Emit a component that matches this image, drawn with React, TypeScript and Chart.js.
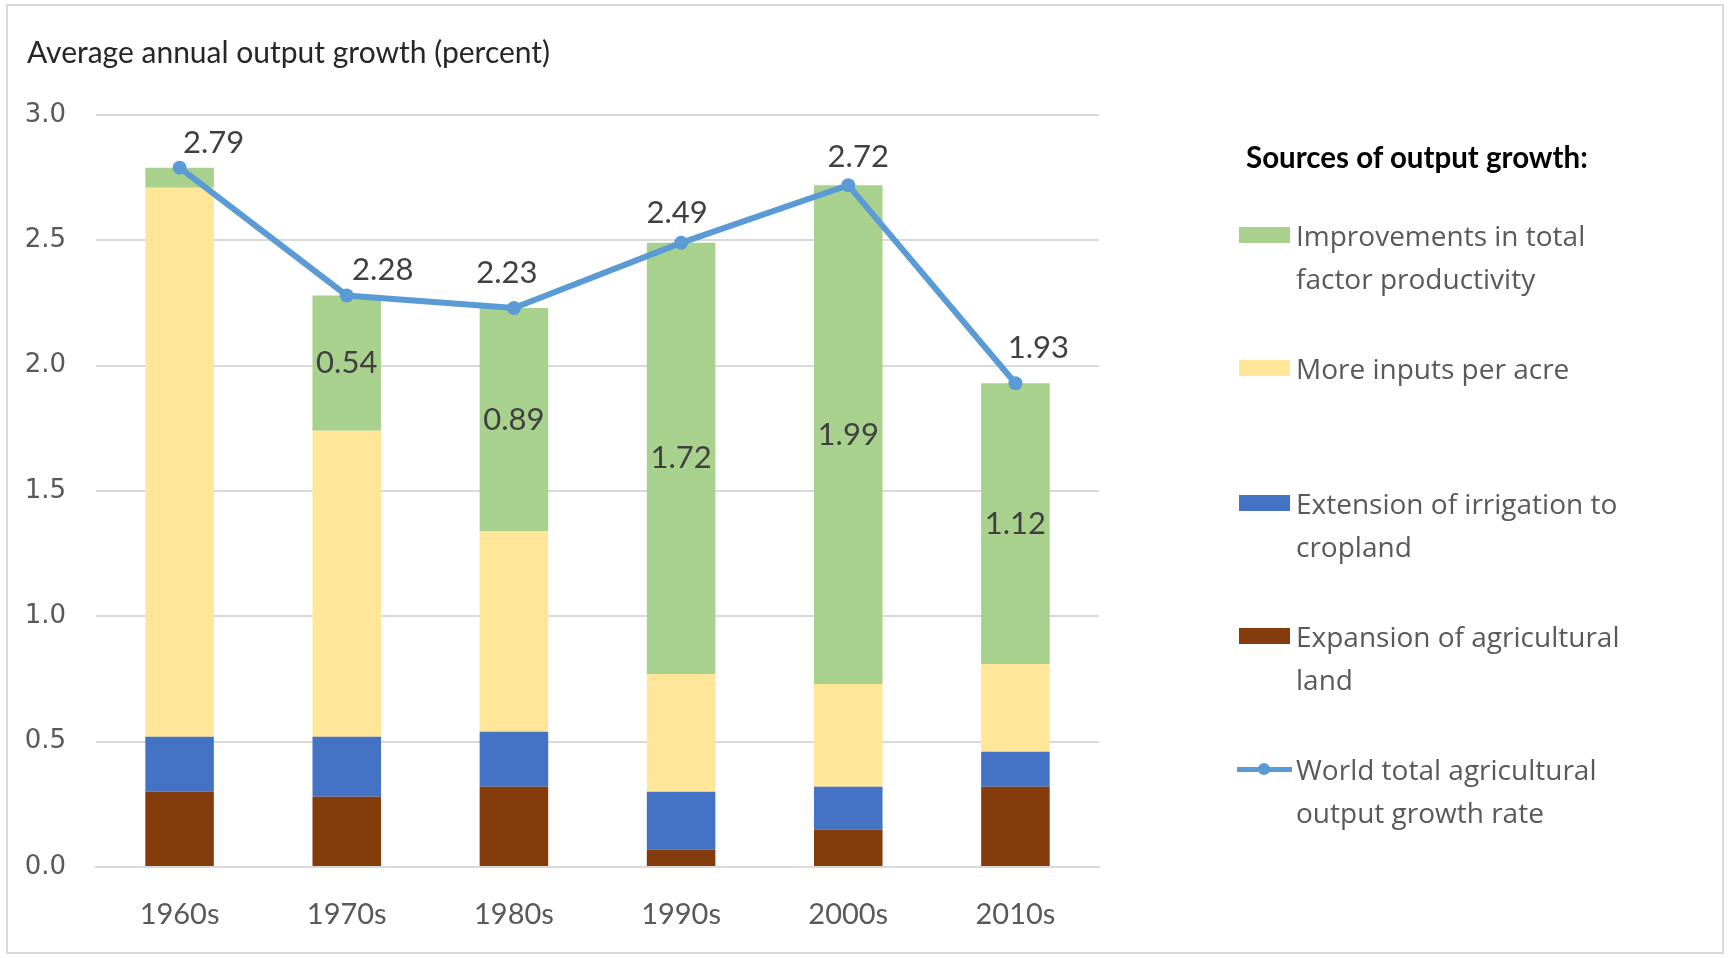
import React, { useEffect, useRef } from "react";
import { Chart, registerables } from "chart.js";

Chart.register(...registerables);

const categories = ["1960s", "1970s", "1980s", "1990s", "2000s", "2010s"];
const landExpansion = [0.30, 0.28, 0.32, 0.07, 0.15, 0.32];
const irrigation = [0.22, 0.24, 0.22, 0.23, 0.17, 0.14];
const inputsPerAcre = [2.19, 1.22, 0.80, 0.47, 0.41, 0.35];
const tfp = [0.08, 0.54, 0.89, 1.72, 1.99, 1.12];
const totalGrowth = [2.79, 2.28, 2.23, 2.49, 2.72, 1.93];
const yTicks = [0, 0.5, 1.0, 1.5, 2.0, 2.5, 3.0];

const legendItems = [
  { label: ["Improvements in total", "factor productivity"], color: "#A9D18E", kind: "bar" },
  { label: ["More inputs per acre"], color: "#FFE699", kind: "bar" },
  { label: ["Extension of irrigation to", "cropland"], color: "#4472C4", kind: "bar" },
  { label: ["Expansion of agricultural", "land"], color: "#843C0C", kind: "bar" },
  { label: ["World total agricultural", "output growth rate"], color: "#5B9BD5", kind: "line" },
];
const legendRowTops = [235, 368, 503, 636, 769];

// label nudges in px (style only)
const lineLabelNudge = [
  [34, -25], [36, -25], [-7, -35], [-4, -30], [10, -28], [23, -35],
];

const labelFont = "31px Lato";

const labelPlugin = {
  id: "valueLabels",
  afterDatasetsDraw(chart: any) {
    const ctx = chart.ctx;
    ctx.save();
    ctx.font = labelFont;
    ctx.fillStyle = "#404040";
    ctx.textAlign = "center";
    ctx.textBaseline = "middle";
    const lineMeta = chart.getDatasetMeta(0);
    lineMeta.data.forEach((pt: any, i: number) => {
      const [dx, dy] = lineLabelNudge[i];
      ctx.fillText(totalGrowth[i].toFixed(2), pt.x + dx, pt.y + dy);
    });
    const greenMeta = chart.getDatasetMeta(4);
    greenMeta.data.forEach((bar: any, i: number) => {
      if (i === 0) return;
      ctx.fillText(tfp[i].toFixed(2), bar.x, (bar.y + bar.base) / 2);
    });
    ctx.restore();
  },
};

export default function App() {
  const canvasRef = useRef<HTMLCanvasElement | null>(null);

  useEffect(() => {
    const canvas = canvasRef.current;
    if (!canvas) return;
    const chart = new Chart(canvas, {
      type: "bar",
      data: {
        labels: categories,
        datasets: [
          {
            type: "line",
            label: "World total agricultural output growth rate",
            data: totalGrowth,
            borderColor: "#5B9BD5",
            backgroundColor: "#5B9BD5",
            borderWidth: 6,
            pointRadius: 7,
            pointBackgroundColor: "#5B9BD5",
            pointBorderWidth: 0,
            stack: "line",
            order: 0,
          } as any,
          { label: "Expansion of agricultural land", data: landExpansion, backgroundColor: "#843C0C", stack: "bars", order: 1 },
          { label: "Extension of irrigation to cropland", data: irrigation, backgroundColor: "#4472C4", stack: "bars", order: 1 },
          { label: "More inputs per acre", data: inputsPerAcre, backgroundColor: "#FFE699", stack: "bars", order: 1 },
          { label: "Improvements in total factor productivity", data: tfp, backgroundColor: "#A9D18E", stack: "bars", order: 1 },
        ],
      },
      options: {
        responsive: false,
        animation: false,
        devicePixelRatio: 1,
        layout: { padding: { left: 25, top: 115, right: 630, bottom: 0 } },
        plugins: { legend: { display: false }, tooltip: { enabled: false } },
        datasets: { bar: { barPercentage: 0.41, categoryPercentage: 1 } },
        scales: {
          x: {
            stacked: true,
            grid: { display: false, drawTicks: false, tickLength: 0 },
            border: { display: true, color: "#D9D9D9", width: 2 },
            ticks: {
              padding: 30,
              color: "#595959",
              font: { family: "Lato", size: 29 },
            },
            afterFit(scale: any) {
              scale.height = 91;
            },
          },
          y: {
            stacked: true,
            min: 0,
            max: 3,
            afterBuildTicks(scale: any) {
              scale.ticks = yTicks.map((v) => ({ value: v }));
            },
            grid: { color: "#D9D9D9", lineWidth: 2, drawTicks: false, tickLength: 0 },
            border: { display: false },
            ticks: {
              padding: 30,
              color: "#595959",
              font: { family: "'DejaVu Sans'", size: 26 },
              callback: (v: any) => Number(v).toFixed(1),
            },
            afterFit(scale: any) {
              scale.width = 71;
            },
          },
        },
      },
      plugins: [labelPlugin],
    });
    return () => chart.destroy();
  }, []);

  return (
    <div style={{ position: "fixed", left: 0, top: 0, width: 1729, height: 958, background: "#fff", overflow: "hidden" }}>
      <div style={{ position: "absolute", left: 6, top: 4, width: 1718, height: 950, border: "2px solid #D9D9D9", boxSizing: "border-box" }} />
      <canvas ref={canvasRef} width={1729} height={958} style={{ position: "absolute", left: 0, top: 0, width: 1729, height: 958 }} />
      <div style={{ position: "absolute", left: 27, top: 51, transform: "translateY(-50%)", fontFamily: "Lato", fontSize: 30, color: "#262626", whiteSpace: "nowrap" }}>
        Average annual output growth (percent)
      </div>
      <div style={{ position: "absolute", left: 1246, top: 156, transform: "translateY(-50%)", fontFamily: "Lato", fontWeight: 700, fontSize: 29.5, color: "#000", whiteSpace: "nowrap" }}>
        Sources of output growth:
      </div>
      {legendItems.map((item, i) => (
        <div key={i}>
          {item.kind === "bar" ? (
            <div style={{ position: "absolute", left: 1239, top: legendRowTops[i] - 8, width: 51, height: 16, background: item.color }} />
          ) : (
            <>
              <div style={{ position: "absolute", left: 1237, top: legendRowTops[i] - 2.5, width: 55, height: 5, background: item.color }} />
              <div style={{ position: "absolute", left: 1258, top: legendRowTops[i] - 6, width: 12, height: 12, borderRadius: 6, background: item.color }} />
            </>
          )}
          {item.label.map((line, j) => (
            <div key={j} style={{ position: "absolute", left: 1296, top: legendRowTops[i] + j * 43, transform: "translateY(-50%)", fontFamily: "'Open Sans'", fontSize: 28, color: "#595959", whiteSpace: "nowrap" }}>
              {line}
            </div>
          ))}
        </div>
      ))}
    </div>
  );
}
